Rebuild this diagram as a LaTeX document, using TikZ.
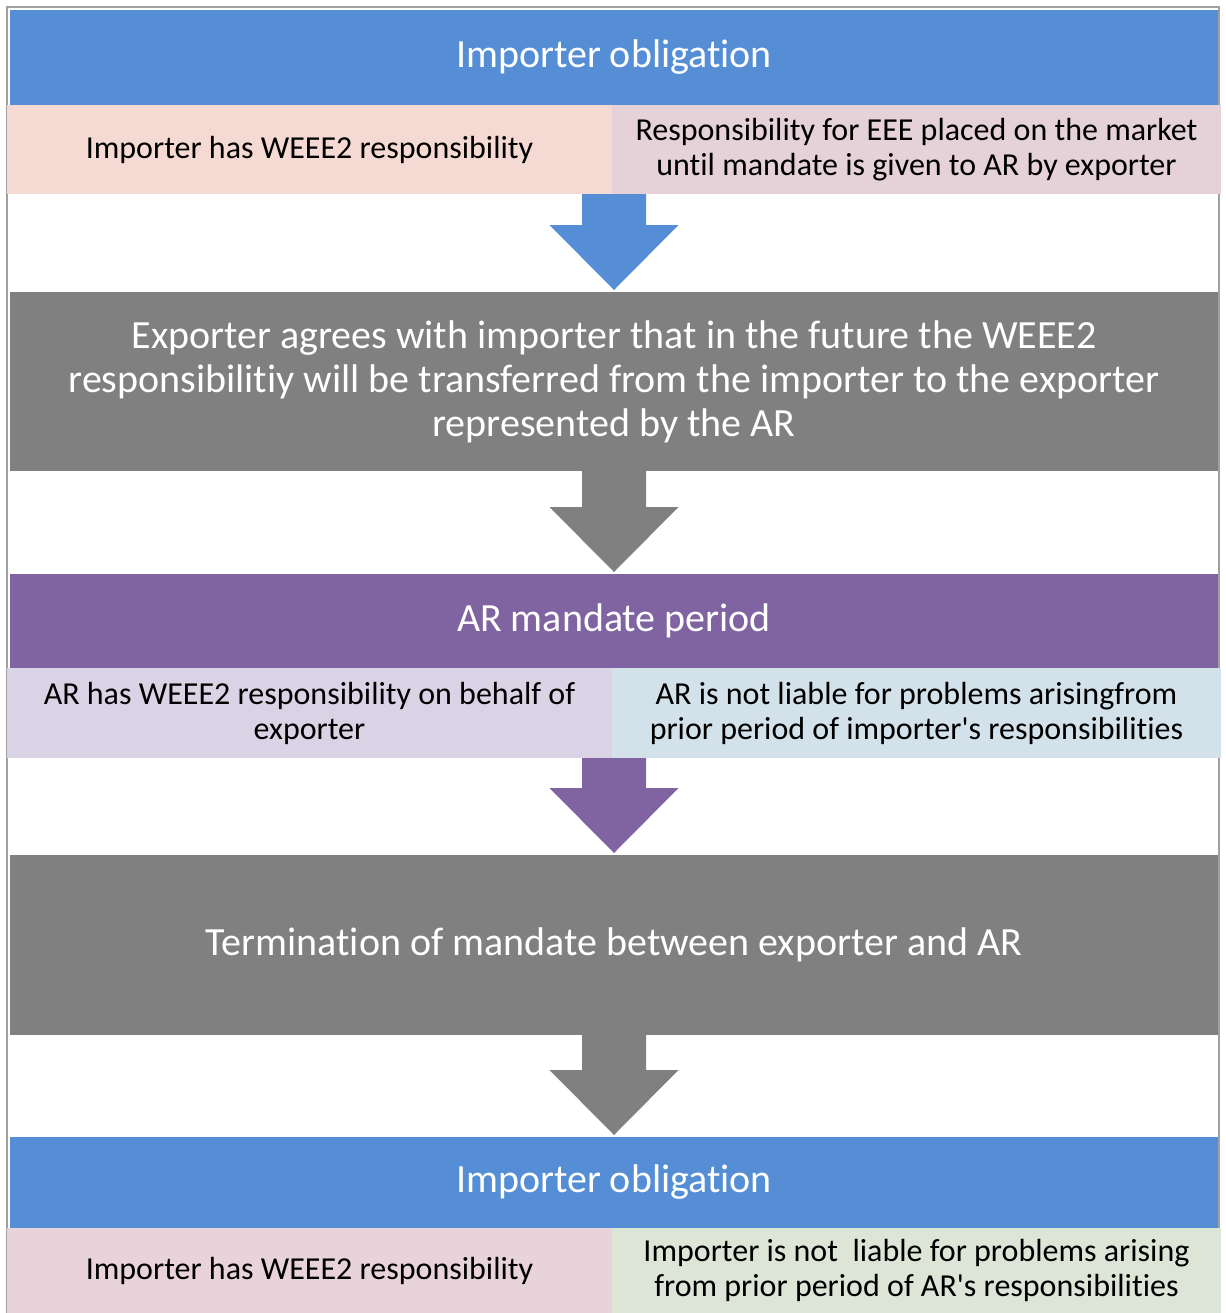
\documentclass[tikz,border=0pt]{standalone}
\usepackage{fontspec}
\setmainfont{Carlito}[RawFeature={-liga;-clig;-calt;-dlig}]
\usetikzlibrary{positioning,calc}

\definecolor{oblblue}{RGB}{85,142,213}
\definecolor{stepgray}{RGB}{128,128,128}
\definecolor{arpurple}{RGB}{128,100,162}
\definecolor{framegray}{RGB}{160,160,160}
\definecolor{peach}{RGB}{245,218,211}
\definecolor{mauve}{RGB}{229,209,216}
\definecolor{lavender}{RGB}{218,211,229}
\definecolor{paleblue}{RGB}{211,225,234}
\definecolor{palepink}{RGB}{231,211,217}
\definecolor{palegreen}{RGB}{220,229,214}

% block arrow from the bottom of one box to the top of the next
\newcommand{\blockarrow}[3]{%
  \fill[#3] ($(#1.south)+(-32,0)$) -- ($(#2.north)+(-32,-67)$) -- ($(#2.north)+(-64.5,-67)$)
    -- ($(#2.north)+(0,-2)$) -- ($(#2.north)+(64.5,-67)$) -- ($(#2.north)+(32,-67)$)
    -- ($(#1.south)+(32,0)$) -- cycle;}

\begin{document}
\begin{tikzpicture}[x=0.5pt,y=-0.5pt,
    mainbox/.style={inner sep=0pt,outer sep=0pt,minimum width=604pt,text=white,align=center,font=\fontsize{20}{22}\selectfont},
    subbox/.style={inner sep=0pt,outer sep=0pt,text=black,align=center,font=\fontsize{16}{17.5}\selectfont}]
\useasboundingbox (0,0) rectangle (1226,1313);
\draw[framegray,line width=1pt] (7,7) rectangle (1219,1330);

% main steps
\node [mainbox,fill=oblblue,minimum height=47.5pt] (top1) at (614,57.5) {Importer obligation};
\node [mainbox,fill=stepgray,minimum height=89.5pt] (gray1) at (614,381.5)
  {Exporter agrees with importer that in the future the WEEE2\\
   responsibilitiy will be transferred from the importer to the exporter\\
   represented by the AR};
\node [mainbox,fill=arpurple,minimum height=47pt] (purple) at (614,621) {AR mandate period};
\node [mainbox,fill=stepgray,minimum height=90pt] (gray2) at (614,945)
  {Termination of mandate between exporter and AR};
\node [mainbox,fill=oblblue,minimum height=45.5pt] (top2) at (614,1182.5) {Importer obligation};

% arrows
\blockarrow{top1}{gray1}{oblblue}
\blockarrow{gray1}{purple}{stepgray}
\blockarrow{purple}{gray2}{arpurple}
\blockarrow{gray2}{top2}{stepgray}

% detail rows
\node [subbox,fill=peach,minimum width=302.5pt,minimum height=44.5pt,anchor=north west]
  (row1L) at ([xshift=-1.5pt]top1.south west) {Importer has WEEE2 responsibility};
\node [subbox,fill=mauve,minimum width=304.5pt,minimum height=44.5pt,right=0pt of row1L]
  (row1R) {Responsibility for EEE placed on the market\\until mandate is given to AR by exporter};

\node [subbox,fill=lavender,minimum width=302.5pt,minimum height=45pt,anchor=north west]
  (row2L) at ([xshift=-1.5pt]purple.south west) {AR has WEEE2 responsibility on behalf of\\exporter};
\node [subbox,fill=paleblue,minimum width=304.5pt,minimum height=45pt,right=0pt of row2L]
  (row2R) {AR is not liable for problems arisingfrom\\prior period of importer\textquotesingle s responsibilities};

\node [subbox,fill=palepink,minimum width=302.5pt,minimum height=42.5pt,anchor=north west]
  (row3L) at ([xshift=-1.5pt]top2.south west) {Importer has WEEE2 responsibility};
\node [subbox,fill=palegreen,minimum width=304.5pt,minimum height=42.5pt,right=0pt of row3L]
  (row3R) {Importer is not~ liable for problems arising\\from prior period of AR\textquotesingle s responsibilities};
\end{tikzpicture}
\end{document}
